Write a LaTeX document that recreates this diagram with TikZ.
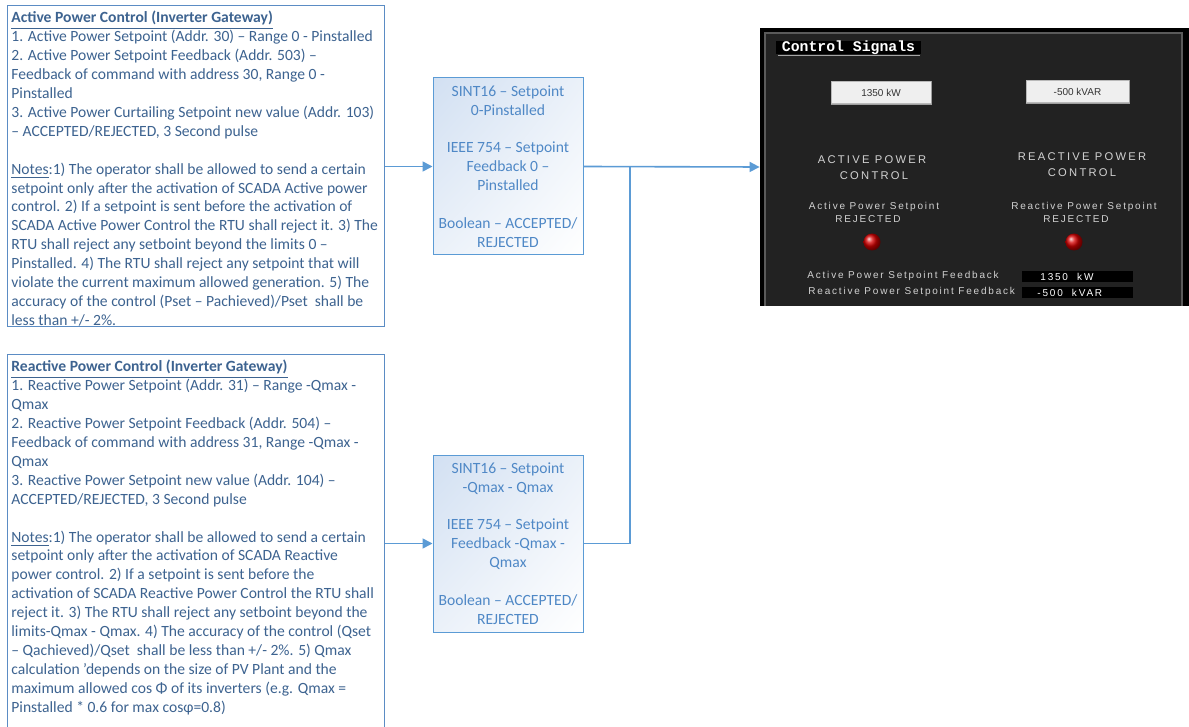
\documentclass[tikz,border=0pt]{standalone}
\usepackage{fontspec}
\setmainfont{Carlito}
\newfontfamily\scrsans[LetterSpace=18]{Liberation Sans}
\newfontfamily\scrcaps[LetterSpace=20]{Liberation Sans}
\newfontfamily\scrplain{Liberation Sans}
\newfontfamily\scrmono{Liberation Mono}
\usetikzlibrary{arrows.meta,shadings}
\definecolor{boxline}{HTML}{5B8CC4}
\definecolor{conn}{HTML}{5B9BD5}
\definecolor{bodytext}{HTML}{3D6390}
\definecolor{midtext}{HTML}{4F88C6}
\definecolor{midfill}{HTML}{D2E0F2}
\definecolor{panel}{HTML}{222222}
\definecolor{panelline}{HTML}{5A5A5A}
\definecolor{scrtext}{HTML}{D2D2D2}
\definecolor{btnfill}{HTML}{EFEFEF}
\tikzset{
  leftbox/.style={draw=boxline, line width=0.5pt, rectangle, inner sep=0pt},
  lefttext/.style={text=bodytext, align=left, inner sep=0pt, font=\fontsize{7.8}{9.45}\selectfont},
  midbox/.style={draw=conn, line width=0.5pt, rectangle, inner sep=0pt, minimum width=75pt, minimum height=88.5pt,
    upper left=midfill, upper right=midfill!45!white, lower left=midfill!45!white, lower right=white,
    text=midtext, align=center, font=\fontsize{7.8}{9.45}\selectfont},
  conline/.style={draw=conn, line width=0.8pt},
  arr/.style={-{Triangle[length=5pt,width=5pt]}},
  screenbox/.style={fill=black, inner sep=0pt, rectangle},
  btn/.style={fill=btnfill, draw=gray!55, line width=0.5pt, inner sep=0pt, text=black!80, font=\scrplain\fontsize{5}{6}\selectfont},
  capslabel/.style={text=scrtext, inner sep=0pt, font=\scrcaps\fontsize{5.6}{6}\selectfont},
  smalllabel/.style={text=scrtext, inner sep=0pt, font=\scrsans\fontsize{5}{6}\selectfont},
  valbox/.style={fill=black, inner sep=0pt, minimum width=55.5pt, minimum height=5.25pt},
  valtext/.style={text=white, inner sep=0pt, font=\scrsans\fontsize{5}{6}\selectfont},
  led/.style={circle, inner sep=0pt, minimum size=8.5pt, ball color=red!85!black}
}
\begin{document}
\begin{tikzpicture}[x=0.5pt,y=-0.5pt]
\useasboundingbox (0,0) rectangle (1189,727);
\clip (0,0) rectangle (1189,727);
\fill[white] (0,0) rectangle (1189,727);

% left boxes
\node[leftbox, minimum width=188.5pt, minimum height=160.5pt] (box1) at (195.5,166.5) {};
\node[lefttext, anchor=north west] (t1) at (11,11) {%
\underline{\textbf{Active Power Control (Inverter Gateway)}}\\
1. Active Power Setpoint (Addr. 30) – Range 0 - Pinstalled\\
2. Active Power Setpoint Feedback (Addr. 503) –\\
Feedback of command with address 30, Range 0 -\\
Pinstalled\\
3. Active Power Curtailing Setpoint new value (Addr. 103)\\
– ACCEPTED/REJECTED, 3 Second pulse\\[9.45pt]
\underline{Notes}:1) The operator shall be allowed to send a certain\\
setpoint only after the activation of SCADA Active power\\
control. 2) If a setpoint is sent before the activation of\\
SCADA Active Power Control the RTU shall reject it. 3) The\\
RTU shall reject any setboint beyond the limits 0 –\\
Pinstalled. 4) The RTU shall reject any setpoint that will\\
violate the current maximum allowed generation. 5) The\\
accuracy of the control (Pset – Pachieved)/Pset~ shall be\\
less than +/- 2\%.};

\node[leftbox, minimum width=188.5pt, minimum height=190pt] (box2) at (195.5,545) {};
\node[lefttext, anchor=north west] (t2) at (11,360) {%
\underline{\textbf{Reactive Power Control (Inverter Gateway)}}\\
1. Reactive Power Setpoint (Addr. 31) – Range -Qmax -\\
Qmax\\
2. Reactive Power Setpoint Feedback (Addr. 504) –\\
Feedback of command with address 31, Range -Qmax -\\
Qmax\\
3. Reactive Power Setpoint new value (Addr. 104) –\\
ACCEPTED/REJECTED, 3 Second pulse\\[9.45pt]
\underline{Notes}:1) The operator shall be allowed to send a certain\\
setpoint only after the activation of SCADA Reactive\\
power control. 2) If a setpoint is sent before the\\
activation of SCADA Reactive Power Control the RTU shall\\
reject it. 3) The RTU shall reject any setboint beyond the\\
limits-Qmax - Qmax. 4) The accuracy of the control (Qset\\
– Qachieved)/Qset~ shall be less than +/- 2\%. 5) Qmax\\
calculation {\char"0027}depends on the size of PV Plant and the\\
maximum allowed cos Φ of its inverters (e.g. Qmax =\\
Pinstalled * 0.6 for max cosφ=0.8)};

% middle boxes
\node[midbox] (mid1) at (508,166.5) {SINT16 – Setpoint\\0-Pinstalled\\[9.45pt]IEEE 754 – Setpoint\\Feedback 0 –\\Pinstalled\\[9.45pt]Boolean – ACCEPTED/\\REJECTED};
\node[midbox] (mid2) at (508,543.5) {SINT16 – Setpoint\\-Qmax - Qmax\\[9.45pt]IEEE 754 – Setpoint\\Feedback -Qmax -\\Qmax\\[9.45pt]Boolean – ACCEPTED/\\REJECTED};

% screenshot
\node[screenbox, minimum width=214.5pt, minimum height=139pt] (screen) at (974.5,167) {};
\fill[panel] (765,33) rectangle (1182,306);
\draw[panelline, line width=0.6pt] (765,306) -- (765,33) -- (1182,33) -- (1182,306);

\node[fill=black, text=white, inner sep=0pt, minimum width=72.5pt, minimum height=5.5pt,
  font=\scrmono\bfseries\fontsize{7.4}{8}\selectfont] (cs) at (848.5,47.5) {Control Signals};
\draw[gray!70, line width=0.5pt] (778,55.5) -- (920,55.5);

\node[btn, minimum width=50pt, minimum height=11pt] (b1) at (881,93) {1350 kW};
\node[btn, minimum width=51.5pt, minimum height=11pt] (b2) at (1077.5,92) {-500 kVAR};
\draw[gray!75, line width=0.7pt] (b1.south west) -- (b1.south east) -- (b1.north east);
\draw[gray!75, line width=0.7pt] (b2.south west) -- (b2.south east) -- (b2.north east);

\node[capslabel] (apc1) at (872,160) {ACTIVE POWER};
\node[capslabel] (apc2) at (874,176) {CONTROL};
\node[capslabel] (rpc1) at (1082,157) {REACTIVE POWER};
\node[capslabel] (rpc2) at (1082,173) {CONTROL};

\node[smalllabel] (aps) at (874,207) {Active Power Setpoint};
\node[smalllabel] (apr) at (868,219) {REJECTED};
\node[smalllabel] (rps) at (1084,207) {Reactive Power Setpoint};
\node[smalllabel] (rpr) at (1076,219) {REJECTED};

\node[led] (led1) at (872,242) {};
\node[led] (led2) at (1074,242) {};

\node[valbox, anchor=west] (v1) at (1022,276.5) {};
\node[valbox, anchor=west] (v2) at (1022,292.5) {};
\node[valtext, anchor=west] (v1t) at (1040,276.5) {1350~~kW};
\node[valtext, anchor=west] (v2t) at (1037,292.5) {-500~~kVAR};
\node[smalllabel, anchor=west] (apf) at (807,276) {Active Power Setpoint Feedback};
\node[smalllabel, anchor=west] (rpf) at (808,292) {Reactive Power Setpoint Feedback};

% connectors
\coordinate (j) at (630,166.5);
\draw[conline, arr] (box1.east) -- (mid1.west);
\draw[conline, arr] (box2.east |- mid2.west) -- (mid2.west);
\draw[conline, arr] (mid1.east) -- (screen.west);
\draw[conline] (mid2.east) -| (j);
\end{tikzpicture}
\end{document}
